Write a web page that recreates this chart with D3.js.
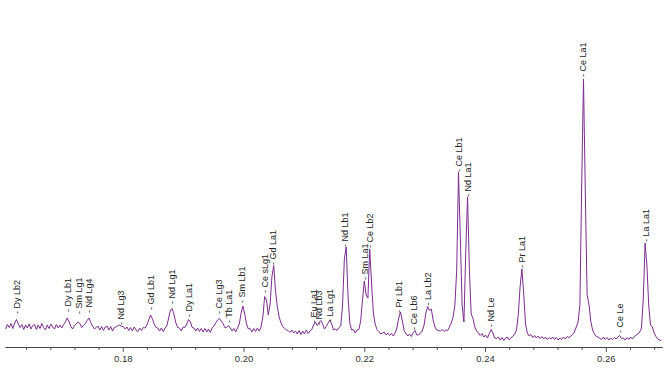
<!DOCTYPE html>
<html><head><meta charset="utf-8">
<script src="https://cdn.jsdelivr.net/npm/d3@7"></script>
<style>html,body{margin:0;padding:0;background:#fff;} svg{display:block}</style>
</head><body><svg id="c" width="667" height="369"></svg>
<script>
// wavelength calibration of the channels (nm)
const wlStart = 0.1606, wlStep = 0.0003;
// counts per channel
const counts = [
180,225,195,235,185,240,275,230,195,225,175,220,190,230,180,215,225,175,220,185,235,195,170,220,185,230,200,180,225,190,220,
190,225,250,290,255,205,180,215,230,250,235,195,215,235,265,290,245,210,180,195,210,170,205,165,200,210,170,205,160,195,
200,215,220,205,205,180,200,165,195,160,200,170,155,190,165,195,190,220,270,320,285,230,195,190,160,190,155,190,210,290,370,385,320,240,195,190,160,200,195,230,275,250,195,190,160,190,155,185,150,185,
150,180,145,190,210,240,270,285,260,235,195,195,215,190,160,185,150,190,230,340,410,330,230,180,185,150,185,155,190,160,
200,300,505,470,320,430,700,815,560,400,300,240,205,185,170,165,145,170,140,160,
130,165,125,160,130,170,135,160,175,220,250,215,245,265,230,180,205,240,270,230,170,180,165,195,210,420,880,1000,520,240,170,175,
140,170,175,260,470,660,520,490,980,640,340,230,175,155,130,140,150,120,
140,115,135,110,140,190,290,350,260,165,135,110,130,105,145,165,120,120,140,160,220,340,405,365,380,270,200,170,165,160,175,155,170,165,
200,240,300,420,760,1750,1100,420,250,950,1500,780,330,285,200,160,
140,115,135,100,120,90,135,175,140,90,85,100,70,95,65,90,100,70,95,105,130,170,320,600,780,530,230,140,110,125,95,115,90,110,85,105,80,100,75,95,
80,100,75,95,70,90,75,100,80,105,95,110,125,150,200,250,420,1600,2680,1550,520,430,260,170,130,105,100,85,75,100,75,95,70,90,75,95,80,100,115,85,90,70,95,75,100,80,100,120,130,150,190,480,1040,820,420,220,200,140,105,80,70,65
];
// peak labels
const peakNames = ["Dy Lb2","Dy Lb1","Sm Lg1","Nd Lg4","Nd Lg3","Gd Lb1","Nd Lg1","Dy La1","Ce Lg3","Tb La1","Sm Lb1","Ce sLg1","Gd La1","Eu La1","Nd Lb3","La Lg1","Nd Lb1","Sm La1","Ce Lb2","Pr Lb1","Ce Lb6","La Lb2","Ce Lb1","Nd La1","Nd Le","Pr La1","Ce La1","Ce Le","La La1"];
const peakWavelengths = [0.16244,0.17098,0.17276,0.17441,0.17966,0.18463,0.18811,0.19097,0.19594,0.19760,0.19980,0.20356,0.20483,0.21172,0.21255,0.21427,0.21685,0.22007,0.22094,0.22580,0.22828,0.23050,0.23568,0.23712,0.24098,0.24607,0.25617,0.26234,0.26665];
const labelCounts = [330,350,330,340,220,370,430,300,330,240,440,540,820,240,220,250,1000,670,990,340,170,415,1750,1500,200,790,2700,140,1050];
const tickValues = [0.18,0.20,0.22,0.24,0.26];

const svg = d3.select("#c");
const x = d3.scaleLinear().domain([0.1605,0.2693]).range([5,662]);
const y = d3.scaleLinear().domain([0,3000]).range([347,47]);

const pts = counts.map((c,i)=>[wlStart + i*wlStep, c]);
svg.append("path").datum(pts)
  .attr("fill","none").attr("stroke","#7b2d8e").attr("stroke-width",1)
  .attr("stroke-linejoin","round")
  .attr("d", d3.line().x(d=>x(d[0])).y(d=>y(d[1])));

// axis
const minor = d3.range(0.164, 0.2690, 0.004).filter(v=>!tickValues.some(t=>Math.abs(t-v)<1e-6));
svg.append("g").attr("transform","translate(0,347)")
  .call(d3.axisBottom(x).tickValues(minor).tickSize(3).tickSizeOuter(0).tickFormat(""));
const gAxis = svg.append("g").attr("transform","translate(0,347)")
  .call(d3.axisBottom(x).tickValues(tickValues).tickSize(5).tickSizeOuter(0).tickPadding(3).tickFormat(d3.format(".2f")));
svg.selectAll(".domain").attr("stroke","#444");
svg.selectAll(".tick line").attr("stroke","#555");
gAxis.selectAll("text").attr("font-family","Liberation Sans, Arial, sans-serif").attr("font-size","9.5px").attr("fill","#333");

// labels
svg.append("g").selectAll("text").data(peakNames).join("text")
  .attr("transform",(d,i)=>`translate(${x(peakWavelengths[i])},${y(labelCounts[i])}) rotate(-90)`)
  .attr("dy","0.35em")
  .attr("font-family","Liberation Sans, Arial, sans-serif")
  .attr("font-size","9px").attr("fill","#222")
  .text(d=>"- "+d);
</script></body></html>
